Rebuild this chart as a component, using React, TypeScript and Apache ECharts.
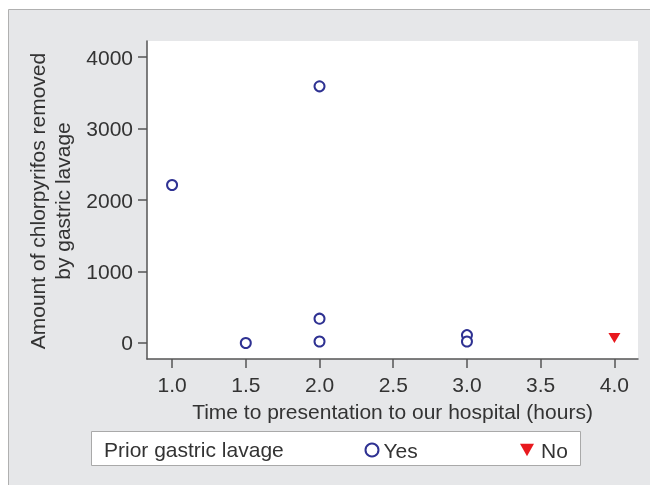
import React, { useEffect, useRef } from "react";
import * as echarts from "echarts";

const xTicks = [1.0, 1.5, 2.0, 2.5, 3.0, 3.5, 4.0];
const yTicks = [0, 1000, 2000, 3000, 4000];
const yesTime = [1.0, 1.5, 2.0, 2.0, 2.0, 3.0, 3.0];
const yesAmount = [2210, 0, 3590, 340, 20, 110, 20];
const noTime = [4.0];
const noAmount = [70];

const FONT = "'Liberation Sans', Arial, sans-serif";
const FS = 21;
const TXT = "#333333";
const AX = "#555555";
const NAVY = "#2e3192";
const RED = "#e8191e";

export default function App() {
  const ref = useRef<HTMLDivElement>(null);
  useEffect(() => {
    if (!ref.current) return;
    const chart = echarts.init(ref.current, null, { renderer: "svg" });
    const option: any = {
      animation: false,
      textStyle: { fontFamily: FONT },
      graphic: [
        {
          type: "rect",
          z: -10,
          silent: true,
          shape: { x: 8.5, y: 9.5, width: 700, height: 500 },
          style: { fill: "#e6e7e9", stroke: "#b0b0b0", lineWidth: 1 },
        },
        {
          type: "rect",
          z: -5,
          silent: true,
          shape: { x: 91.5, y: 431.5, width: 489, height: 34 },
          style: { fill: "#ffffff", stroke: "#a9a9a9", lineWidth: 1 },
        },
        {
          type: "text",
          x: 104,
          y: 449,
          style: {
            text: "Prior gastric lavage",
            font: `${FS}px ${FONT}`,
            fill: TXT,
            verticalAlign: "middle",
          },
        },
        {
          type: "text",
          x: 50,
          y: 201,
          rotation: Math.PI / 2,
          style: {
            text: "Amount of chlorpyrifos removed\nby gastric lavage",
            font: `${FS}px ${FONT}`,
            fill: TXT,
            align: "center",
            verticalAlign: "middle",
            lineHeight: 25,
          },
        },
      ],
      grid: {
        left: 147,
        right: 12,
        top: 41,
        bottom: 126,
        show: true,
        backgroundColor: "#ffffff",
        borderWidth: 0,
      },
      xAxis: {
        type: "value",
        min: 0.83,
        max: 4.16,
        name: "Time to presentation to our hospital (hours)",
        nameLocation: "middle",
        nameGap: 42,
        nameTextStyle: { fontSize: FS, color: TXT, fontFamily: FONT },
        axisLine: { show: true, onZero: false, lineStyle: { color: AX, width: 1.5 } },
        axisTick: { show: true, length: 9, lineStyle: { color: AX, width: 1.5 }, customValues: xTicks },
        axisLabel: {
          fontSize: FS,
          color: TXT,
          margin: 15,
          customValues: xTicks,
          formatter: (v: number) => v.toFixed(1),
        },
        splitLine: { show: false },
      },
      yAxis: {
        type: "value",
        min: -224,
        max: 4224,
        axisLine: { show: true, onZero: false, lineStyle: { color: AX, width: 1.5 } },
        axisTick: { show: true, length: 9, lineStyle: { color: AX, width: 1.5 }, customValues: yTicks },
        axisLabel: {
          fontSize: FS,
          color: TXT,
          margin: 14,
          customValues: yTicks,
          formatter: (v: number) => String(v),
        },
        splitLine: { show: false },
      },
      legend: [
        {
          data: [{ name: "Yes", icon: "circle", itemStyle: { color: "#ffffff", borderColor: NAVY, borderWidth: 2, opacity: 1 } }],
          left: 364.5,
          top: 439.5,
          padding: 0,
          itemWidth: 13,
          itemHeight: 13,
          selectedMode: false,
          textStyle: { fontSize: FS, color: TXT, fontFamily: FONT },
        },
        {
          data: [{ name: "No", icon: "path://M0,0 L10,0 L5,9 Z", itemStyle: { color: RED, opacity: 1 } }],
          left: 520,
          top: 439.5,
          padding: 0,
          itemWidth: 14,
          itemHeight: 13,
          selectedMode: false,
          textStyle: { fontSize: FS, color: TXT, fontFamily: FONT, padding: [0, 0, 0, 2] },
        },
      ],
      series: [
        {
          name: "Yes",
          type: "scatter",
          symbol: "circle",
          symbolSize: 10,
          itemStyle: { color: "#ffffff", borderColor: NAVY, borderWidth: 2, opacity: 1 },
          data: yesTime.map((t, i) => [t, yesAmount[i]]),
        },
        {
          name: "No",
          type: "scatter",
          symbol: "triangle",
          symbolRotate: 180,
          symbolSize: [12, 10],
          itemStyle: { color: RED, opacity: 1 },
          data: noTime.map((t, i) => [t, noAmount[i]]),
        },
      ],
    };
    chart.setOption(option);
    return () => chart.dispose();
  }, []);
  return (
    <div
      ref={ref}
      style={{ position: "fixed", left: 0, top: 0, width: 650, height: 485 }}
    />
  );
}
